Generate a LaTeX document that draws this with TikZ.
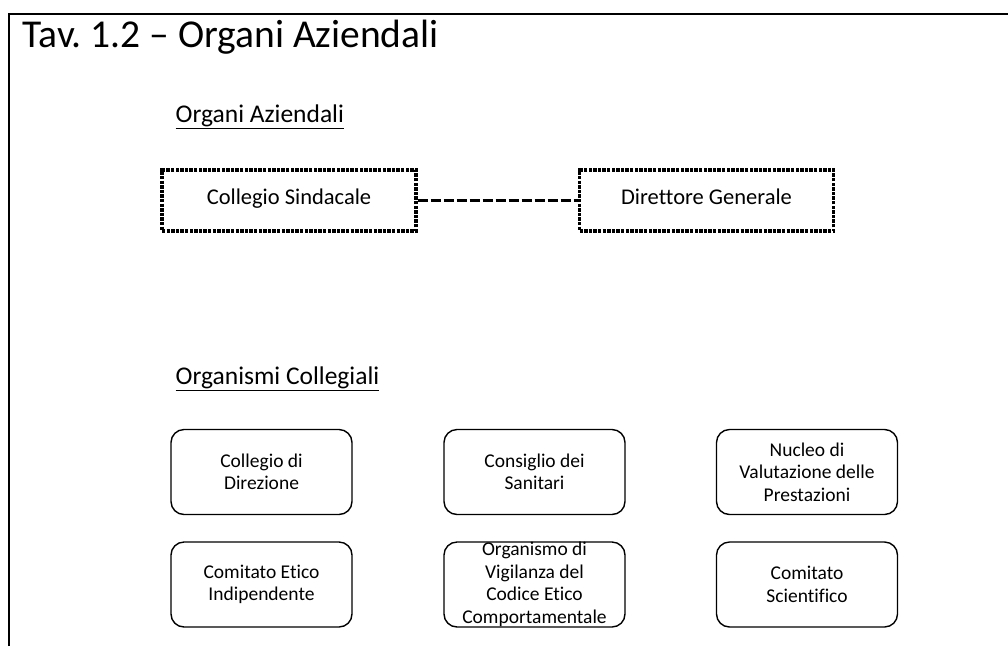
\documentclass[tikz,border=0pt]{standalone}
\usepackage{fontspec}
\setmainfont{Carlito}[Ligatures={TeX,NoCommon}]
\usepackage{tikz}

\begin{document}
\begin{tikzpicture}[x=1pt, y=-1pt, line width=1.4pt,
    organo/.style={draw=black, line width=3.4pt, dash pattern=on 3.4pt off 1.2pt,
      minimum width=254pt, minimum height=61pt, inner sep=0pt,
      text height=1em, text depth=0.2em,
      font=\fontsize{22.5}{27}\selectfont},
    collegiale/.style={draw=black, line width=1.4pt, rounded corners=13pt,
      minimum width=181pt, minimum height=85pt, inner sep=0pt, align=center,
      font=\fontsize{19.5}{22.5}\selectfont},
    sezione/.style={anchor=base west, inner sep=0pt, font=\fontsize{25.5}{30}\selectfont}]
    \useasboundingbox (0,0) rectangle (1008,646);

    % draw page frame
    \draw[line width=2.2pt] (9,646) -- (9,14) -- (1008,14);

    % title
    \node[anchor=base west, inner sep=0pt, font=\fontsize{39.5}{44}\selectfont] (tav) at (22,47) {Tav.\ 1.2 – Organi Aziendali};

    % draw organi aziendali
    \node[sezione] (aziendali) at (175,122) {\underline{Organi Aziendali}};
    \node[organo] (sindacale) at (289,200.5) {Collegio Sindacale};
    \node[organo] (direttore) at (706.5,200.5) {Direttore Generale};
    \draw[line width=2.5pt, dash pattern=on 10pt off 3pt] (sindacale.east) -- (direttore.west);

    % draw organismi collegiali
    \node[sezione] (collegiali) at (175,384) {\underline{Organismi Collegiali}};

    \node[collegiale] (direzione) at (261.5,472) {Collegio di\\Direzione};
    \node[collegiale] (sanitari) at (534.5,472) {Consiglio dei\\Sanitari};
    \node[collegiale] (nucleo) at (807,472) {Nucleo di\\Valutazione delle\\Prestazioni};

    \node[collegiale] (etico) at (261.5,584.5) {Comitato Etico\\Indipendente};
    \node[collegiale] (vigilanza) at (534.5,584.5) {Organismo di\\Vigilanza del\\Codice Etico\\Comportamentale};
    \node[collegiale] (scientifico) at (807,584.5) {Comitato\\Scientifico};

\end{tikzpicture}
\end{document}
